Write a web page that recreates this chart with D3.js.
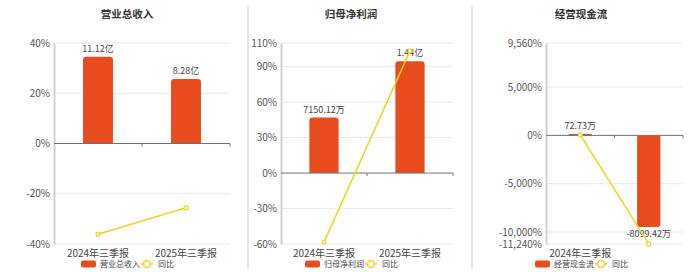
<!DOCTYPE html>
<html>
<head>
<meta charset="utf-8">
<script src="https://cdn.jsdelivr.net/npm/d3@7/dist/d3.min.js"></script>
<style>
  body { margin: 0; background: #fff; }
  svg { font-family: "Noto Sans CJK SC", "Noto Sans", sans-serif; }
</style>
</head>
<body>
<div id="chart"></div>
<script>
// data
const periods = ['2024年三季报', '2025年三季报']

const revenue = [11.12, 8.28] // 亿
const revenueLabels = ['11.12亿', '8.28亿']
const revenueYoy = [-36.1, -25.6]
const revenueTicks = [-40, -20, 0, 20, 40]

const profit = [0.715012, 1.44] // 亿
const profitLabels = ['7150.12万', '1.44亿']
const profitYoy = [-58.4, 103.3]
const profitTicks = [-60, -30, 0, 30, 60, 90, 110]

const cashflow = [72.73, -8099.42] // 万
const cashflowLabels = ['72.73万', '-8099.42万']
const cashflowYoy = [60, -11236]
const cashflowTicks = [-11240, -10000, -5000, 0, 5000, 9560]

const panels = [
  { title: '营业总收入', bars: revenue, labels: revenueLabels, yoy: revenueYoy, ticks: revenueTicks,
    left: 54, right: 230, center: 127, barRef: 12.9 },
  { title: '归母净利润', bars: profit, labels: profitLabels, yoy: profitYoy, ticks: profitTicks,
    left: 281, right: 453, center: 351, barRef: 1.674 },
  { title: '经营现金流', bars: cashflow, labels: cashflowLabels, yoy: cashflowYoy, ticks: cashflowTicks,
    left: 546, right: 683, center: 581, barRef: -9600 },
]

const barColor = '#e84b1c'
const lineColor = '#f6d11b'
const plotTop = 43
const plotBottom = 244

const svg = d3.select('#chart')
  .append('svg')
  .attr('width', 700)
  .attr('height', 272)

// separators
;[248, 472].forEach(x => {
  svg.append('line')
    .attr('x1', x).attr('x2', x)
    .attr('y1', 6).attr('y2', 268)
    .attr('stroke', '#dcdcdc')
    .attr('stroke-width', 1.5)
})

const fmt = d => d.toLocaleString('en-US') + '%'

function barPath(x, w, y0, y1, r) {
  // rounded on the far end from zero
  const h = Math.abs(y1 - y0)
  r = Math.min(r, h / 2, w / 2)
  if (y1 <= y0) {
    return `M${x},${y0}V${y1 + r}Q${x},${y1} ${x + r},${y1}H${x + w - r}Q${x + w},${y1} ${x + w},${y1 + r}V${y0}Z`
  }
  return `M${x},${y0}V${y1 - r}Q${x},${y1} ${x + r},${y1}H${x + w - r}Q${x + w},${y1} ${x + w},${y1 - r}V${y0}Z`
}

panels.forEach(p => {
  const g = svg.append('g')

  const x = d3.scaleBand()
    .domain(periods)
    .range([p.left, p.right])

  const y = d3.scaleLinear()
    .domain(d3.extent(p.ticks))
    .range([plotBottom, plotTop])

  const zeroY = y(0)
  const yBar = d3.scaleLinear()
    .domain([0, p.barRef])
    .range([zeroY, p.barRef > 0 ? plotTop : plotBottom])

  // title
  g.append('text')
    .attr('x', p.center)
    .attr('y', 18)
    .attr('text-anchor', 'middle')
    .attr('font-size', '10.5px')
    .attr('font-weight', 'bold')
    .attr('fill', '#333')
    .text(p.title)

  // grid lines
  g.selectAll('.grid')
    .data(p.ticks.filter(t => t !== 0))
    .enter().append('line')
    .attr('x1', p.left).attr('x2', p.right)
    .attr('y1', d => y(d)).attr('y2', d => y(d))
    .attr('stroke', '#e6e9f2')
    .attr('stroke-width', 1)

  // y axis
  const yAxis = g.append('g')
    .attr('transform', `translate(${p.left},0)`)
    .call(d3.axisLeft(y).tickValues(p.ticks).tickSize(0).tickPadding(4).tickFormat(fmt))
  yAxis.select('.domain').attr('stroke', '#cfd0d6').attr('stroke-width', 2)
  yAxis.selectAll('text')
    .attr('font-size', '10px')
    .attr('fill', '#555')
    .attr('font-family', '"Noto Sans CJK SC", sans-serif')

  // bars
  const bw = x.bandwidth() * 0.34
  g.selectAll('.bar')
    .data(p.bars)
    .enter().append('path')
    .attr('fill', barColor)
    .attr('d', (d, i) => {
      let y1 = yBar(d)
      if (Math.abs(y1 - zeroY) < 1.5) y1 = zeroY - 1.5 * Math.sign(d)
      return barPath(x(periods[i]) + x.bandwidth() / 2 - bw / 2, bw, zeroY, y1, 3)
    })

  // bar labels
  g.selectAll('.blabel')
    .data(p.bars)
    .enter().append('text')
    .attr('x', (d, i) => x(periods[i]) + x.bandwidth() / 2)
    .attr('y', d => {
      const yy = Math.min(yBar(d), zeroY - 1.5)
      return d >= 0 ? yy - 5 : yBar(d) + 10
    })
    .attr('text-anchor', 'middle')
    .attr('font-size', '9px')
    .attr('fill', '#444')
    .text((d, i) => p.labels[i])

  // zero axis line
  g.append('line')
    .attr('x1', p.left).attr('x2', p.right)
    .attr('y1', zeroY).attr('y2', zeroY)
    .attr('stroke', '#6e7079')
    .attr('stroke-width', 1)
  d3.range(periods.length + 1).map(i => p.left + i * x.step()).slice(1).forEach(tx => {
    g.append('line')
      .attr('x1', tx).attr('x2', tx)
      .attr('y1', zeroY).attr('y2', zeroY + 3)
      .attr('stroke', '#6e7079')
  })

  // yoy line
  const line = d3.line()
    .x((d, i) => x(periods[i]) + x.bandwidth() / 2)
    .y(d => y(d))
  g.append('path')
    .datum(p.yoy)
    .attr('d', line)
    .attr('fill', 'none')
    .attr('stroke', lineColor)
    .attr('stroke-width', 1.5)
  g.selectAll('.dot')
    .data(p.yoy)
    .enter().append('circle')
    .attr('cx', (d, i) => x(periods[i]) + x.bandwidth() / 2)
    .attr('cy', d => y(d))
    .attr('r', 2)
    .attr('fill', '#fff')
    .attr('stroke', lineColor)
    .attr('stroke-width', 1.2)

  // x labels (skip every other one when the band is too narrow)
  const skip = x.bandwidth() < 80 ? 2 : 1
  g.selectAll('.xlabel')
    .data(periods.filter((d, i) => i % skip === 0))
    .enter().append('text')
    .attr('x', d => x(d) + x.bandwidth() / 2)
    .attr('y', plotBottom + 12.5)
    .attr('text-anchor', 'middle')
    .attr('font-size', '10px')
    .attr('fill', '#444')
    .text(d => d)

  // legend
  const lg = g.append('g')
    .attr('transform', `translate(${p.center - 46},264)`)
  lg.append('rect')
    .attr('x', 0).attr('y', -3.5)
    .attr('width', 15).attr('height', 7)
    .attr('rx', 2)
    .attr('fill', barColor)
  lg.append('text')
    .attr('x', 19).attr('y', 3)
    .attr('font-size', '8px')
    .attr('fill', '#444')
    .text(p.title)
  lg.append('line')
    .attr('x1', 60).attr('x2', 72)
    .attr('y1', 0).attr('y2', 0)
    .attr('stroke', lineColor)
    .attr('stroke-width', 1.5)
  lg.append('circle')
    .attr('cx', 66).attr('cy', 0).attr('r', 3.5)
    .attr('fill', '#fff')
    .attr('stroke', lineColor)
    .attr('stroke-width', 1.5)
  lg.append('text')
    .attr('x', 77).attr('y', 3)
    .attr('font-size', '8px')
    .attr('fill', '#444')
    .text('同比')
})
</script>
</body>
</html>
